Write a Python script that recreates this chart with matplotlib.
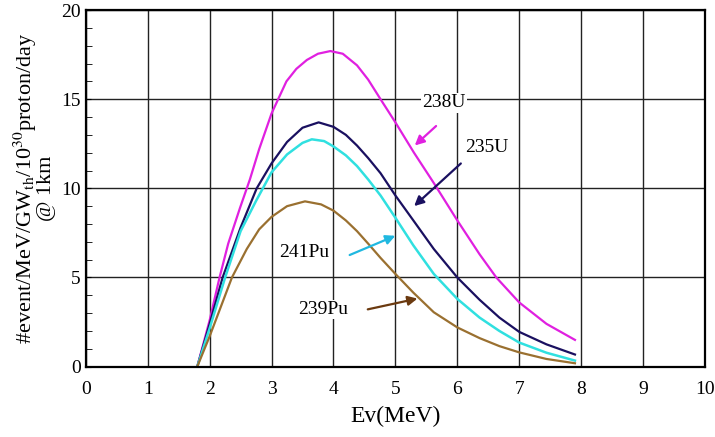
import matplotlib.pyplot as plt
from matplotlib.ticker import MultipleLocator

plt.rcParams['font.family'] = 'serif'
plt.rcParams['font.serif'] = ['Liberation Serif', 'DejaVu Serif']
plt.rcParams['mathtext.fontset'] = 'stix'

# energy (MeV) / event rate
x_238u = [1.8, 2.0, 2.16, 2.3, 2.49, 2.65, 2.8, 3.0, 3.24, 3.4, 3.57, 3.75, 3.95, 4.15, 4.38, 4.56, 4.76, 5.0, 5.3, 5.62, 6.0, 6.36, 6.63, 7.0, 7.44, 7.9]
y_238u = [0.0, 2.6, 5.0, 6.9, 8.9, 10.5, 12.2, 14.2, 16.0, 16.7, 17.2, 17.55, 17.7, 17.55, 16.9, 16.1, 15.0, 13.7, 12.0, 10.3, 8.2, 6.3, 5.0, 3.6, 2.4, 1.5]

x_235u = [1.8, 2.0, 2.21, 2.5, 2.76, 3.0, 3.25, 3.5, 3.76, 4.0, 4.2, 4.38, 4.56, 4.76, 5.0, 5.29, 5.62, 6.0, 6.36, 6.68, 7.0, 7.44, 7.9]
y_235u = [0.0, 2.4, 5.0, 7.8, 10.0, 11.4, 12.6, 13.4, 13.7, 13.45, 13.0, 12.4, 11.7, 10.85, 9.6, 8.2, 6.6, 5.0, 3.75, 2.75, 1.95, 1.25, 0.68]

x_241pu = [1.8, 2.0, 2.25, 2.5, 2.75, 3.0, 3.25, 3.5, 3.65, 3.85, 4.0, 4.2, 4.38, 4.56, 4.76, 5.0, 5.29, 5.62, 6.0, 6.36, 6.68, 7.0, 7.44, 7.9]
y_241pu = [0.0, 2.15, 5.0, 7.6, 9.3, 10.9, 11.9, 12.55, 12.75, 12.65, 12.35, 11.85, 11.25, 10.5, 9.6, 8.35, 6.8, 5.2, 3.8, 2.75, 2.0, 1.35, 0.78, 0.34]

x_239pu = [1.8, 2.0, 2.36, 2.6, 2.8, 3.0, 3.25, 3.54, 3.8, 4.0, 4.2, 4.38, 4.56, 4.76, 5.0, 5.29, 5.62, 6.0, 6.36, 6.68, 7.0, 7.44, 7.9]
y_239pu = [0.0, 1.7, 5.0, 6.6, 7.7, 8.4, 9.0, 9.27, 9.1, 8.75, 8.2, 7.6, 6.9, 6.1, 5.2, 4.15, 3.05, 2.2, 1.6, 1.15, 0.8, 0.43, 0.19]

fig = plt.figure(figsize=(7.15, 4.37), dpi=100)
ax = fig.add_axes([0.120, 0.161, 0.866, 0.816])

ax.plot(x_238u, y_238u, color='#e020e0', lw=1.6)
ax.plot(x_235u, y_235u, color='#1a1060', lw=1.6)
ax.plot(x_241pu, y_241pu, color='#30e0e0', lw=1.8)
ax.plot(x_239pu, y_239pu, color='#9a7030', lw=1.6)

ax.set_xlim(0, 10)
ax.set_ylim(0, 20)
ax.xaxis.set_major_locator(MultipleLocator(1))
ax.yaxis.set_major_locator(MultipleLocator(5))
ax.yaxis.set_minor_locator(MultipleLocator(1))
ax.grid(True, color='#222222', lw=1.0)
ax.set_axisbelow(True)
ax.tick_params(axis='x', length=0, labelsize=14, pad=10)
ax.tick_params(axis='y', which='both', direction='in', labelsize=14)
ax.tick_params(axis='y', which='minor', length=4)
for s in ax.spines.values():
    s.set_linewidth(1.6)

ax.set_xlabel('Ev(MeV)', fontsize=17, labelpad=6)
ax.set_ylabel('#event/MeV/GW$_{\\rm th}$/10$^{30}$proton/day\n@ 1km',
              fontsize=16, linespacing=0.85)

box = dict(facecolor='white', edgecolor='none', pad=1)
labels = [
    ('238U', (5.78, 14.8), (5.69, 13.6), (5.28, 12.3), '#e020e0'),
    ('235U', (6.48, 12.3), (6.09, 11.5), (5.27, 8.9), '#1a1060'),
    ('241Pu', (3.52, 6.4), (4.22, 6.2), (5.04, 7.4), '#20b8e0'),
    ('239Pu', (3.83, 3.2), (4.51, 3.18), (5.40, 3.85), '#6b3a10'),
]
for txt, tpos, tail, head, c in labels:
    ax.text(tpos[0], tpos[1], txt, fontsize=14, ha='center', va='center', bbox=box)
    ax.annotate('', xy=head, xytext=tail,
                arrowprops=dict(arrowstyle='-|>', color=c, lw=1.6, mutation_scale=14))

fig.savefig('out.png', dpi=100)
